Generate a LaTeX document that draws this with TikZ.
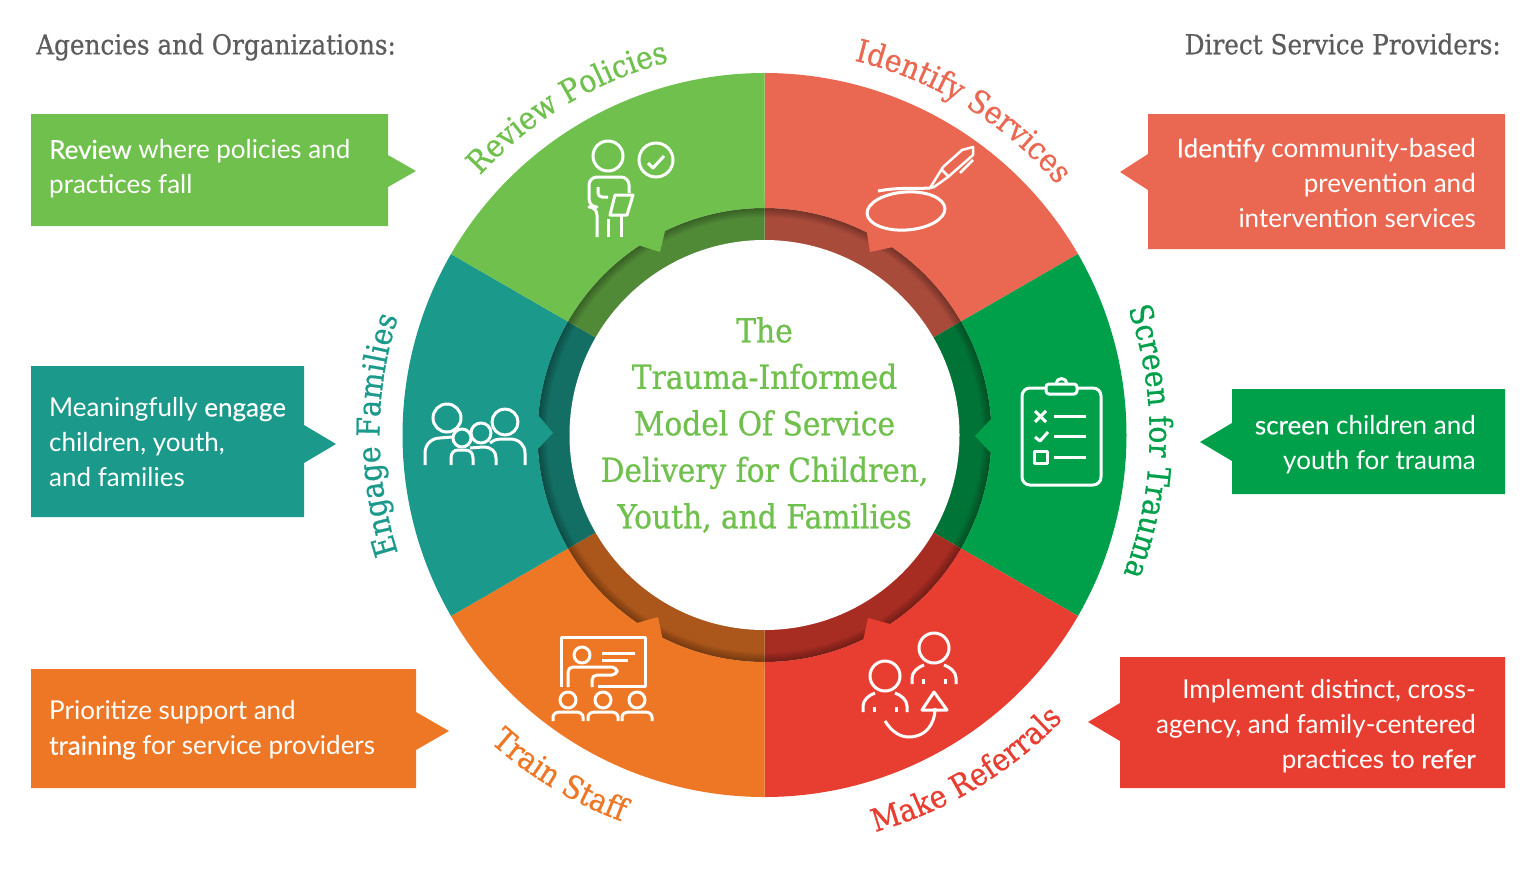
\documentclass[tikz,border=0pt]{standalone}
\usepackage{fontspec}
\usetikzlibrary{decorations.text}
\setmainfont{Lato}
\newfontfamily\slabfont{DejaVu Serif Condensed}[FakeBold=0.7]
\newfontfamily\boldfont{Lato}[FakeBold=0.3]
\definecolor{reviewgreen}{HTML}{70C04D}
\definecolor{identifyred}{HTML}{EA6852}
\definecolor{screengreen}{HTML}{00A04B}
\definecolor{referred}{HTML}{E83E31}
\definecolor{trainorange}{HTML}{ED7725}
\definecolor{engageteal}{HTML}{1B998B}
\definecolor{headgrey}{HTML}{5C5C5C}
\newcommand{\curvedfont}{\slabfont\fontsize{31.5}{32}\selectfont}
\tikzset{
  lefttext/.style={anchor=west,inner sep=0pt,align=left,white,font=\fontsize{26}{35}\selectfont},
  righttext/.style={anchor=east,inner sep=0pt,align=right,white,font=\fontsize{26}{35}\selectfont},
  headtext/.style={inner sep=0pt,headgrey,font=\slabfont\fontsize{27.5}{30}\selectfont},
  icon/.style={white,line width=3pt,line cap=butt,line join=round},
}
\begin{document}
\begin{tikzpicture}[x=1pt,y=-1pt]
\useasboundingbox (0,0) rectangle (1536,873);
% ring and wedges
\begin{scope}[shift={(764.5,435)},y=1pt]
\foreach \col/\a/\b in {identifyred/90/30,screengreen/30/-30,referred/-30/-90,trainorange/-90/-150,engageteal/-150/-210,reviewgreen/150/90}{
  \fill[\col!72!black] (0,0) -- (\a:227) arc (\a:\b:227) -- cycle;
}
\foreach \w in {3,6,9,12,15,18}{
  \draw[black,opacity=0.05,line width=\w] (0,0) circle (227);
}
\foreach \col/\a/\b in {identifyred/90/30,screengreen/30/-30,referred/-30/-90,trainorange/-90/-150,engageteal/-150/-210,reviewgreen/150/90}{
  \fill[\col] (\a:227) -- (\a:362) arc (\a:\b:362) -- (\b:227) arc (\b:\a:227) -- cycle;
}
\end{scope}
% teeth
\fill[reviewgreen] (666,227) -- (660,252) -- (638,245) -- (650,224) -- cycle;
\fill[identifyred] (866,227) -- (870,252) -- (893,247) -- (880,224) -- cycle;
\fill[screengreen] (991,419) -- (975,436) -- (991,453) -- (1000,436) -- cycle;
\fill[referred] (863,641) -- (868,618) -- (890,624) -- (878,646) -- cycle;
\fill[trainorange] (663,641) -- (658,617) -- (637,623) -- (648,646) -- cycle;
\fill[engageteal] (538,415) -- (553,433) -- (538,449) -- (528,432) -- cycle;
\fill[white] (764.5,435) circle (195);
% curved labels
\begin{scope}[shift={(764.5,435)},y=1pt]
\path[decorate,decoration={text along path,text align=center,text={|\curvedfont\color{reviewgreen}|Review Policies}}] (151:385) arc (151:91:385);
\path[decorate,decoration={text along path,text align=center,text={|\curvedfont\color{identifyred}|Identify Services}}] (88.5:385) arc (88.5:28.5:385);
\path[decorate,decoration={text along path,text align=center,text={|\curvedfont\color{screengreen}|Screen for Trauma}}] (29:385) arc (29:-31:385);
\path[decorate,decoration={text along path,text align=center,text={|\curvedfont\color{referred}|Make Referrals}}] (-89:412) arc (-89:-29:412);
\path[decorate,decoration={text along path,text align=center,text={|\curvedfont\color{trainorange}|Train Staff}}] (-151:412) arc (-151:-91:412);
\path[decorate,decoration={text along path,text align=center,text={|\curvedfont\color{engageteal}|Engage Families}}] (210:385) arc (210:150:385);
\end{scope}
% headings and centre
\node[headtext,anchor=west] (agencies) at (36,47) {Agencies and Organizations:};
\node[headtext,anchor=east] (providers) at (1501,44) {Direct Service Providers:};
\node[inner sep=0pt,align=center,reviewgreen,font=\slabfont\fontsize{33}{46.5}\selectfont] (model) at (764.5,425) {The\\Trauma-Informed\\Model Of Service\\Delivery for Children,\\Youth, and Families};
% callouts left
\fill[reviewgreen] (31,114) rectangle (388,226) (388,155) -- (416,171) -- (388,187) -- cycle;
\node[lefttext] (reviewtext) at (49,169) {{\boldfont Review} where policies and\\practices fall};
\fill[engageteal] (31,366) rectangle (304,517) (304,425) -- (336,444) -- (304,463) -- cycle;
\node[lefttext] (engagetext) at (49,442) {Meaningfully {\boldfont engage}\\children, youth,\\and families};
\fill[trainorange] (31,669) rectangle (416,788) (416,712) -- (449,731) -- (416,750) -- cycle;
\node[lefttext] (traintext) at (49,730) {Prioritize support and\\{\boldfont training} for service providers};
% callouts right
\fill[identifyred] (1148,114) rectangle (1505,249) (1148,154) -- (1120,172) -- (1148,190) -- cycle;
\node[righttext] (identifytext) at (1476,183) {{\boldfont Identify} community-based\\prevention and\\intervention services};
\fill[screengreen] (1232,389) rectangle (1505,494) (1232,423) -- (1200,442) -- (1232,461) -- cycle;
\node[righttext] (screentext) at (1476,444.5) {{\boldfont screen} children and\\youth for trauma};
\fill[referred] (1120,657) rectangle (1505,788) (1120,703) -- (1088,722) -- (1120,741) -- cycle;
\node[righttext] (refertext) at (1476,726) {Implement distinct, cross-\\agency, and family-centered\\practices to {\boldfont refer}};
% icon review
\begin{scope}[icon]
\draw (608,156) circle (15);
\draw (656,160) circle (17);
\draw (648,163) -- (653,168) -- (664,156);
\draw[rounded corners=8pt] (597,237) -- (597,207) -- (589,207) -- (589,177) -- (629,177) -- (629,193);
\draw[rounded corners=4pt] (598,187) -- (598,197) -- (608,197);
\draw (615,195) -- (633,195) -- (627,215) -- (610,215) -- cycle;
\draw (608,219) -- (608,237) (621,216) -- (621,237);
% icon identify
\draw[rotate around={4:(906,211)}] (906,211) ellipse (39 and 19);
\draw (878,191) .. controls (900,187) and (915,189) .. (930,188);
\draw[line width=2.5pt] (930,188) -- (943,167) -- (962,150) -- (973,147) -- (973,155) -- (948,177) -- (934,187) -- cycle;
\draw[line width=2.5pt] (942,170) -- (949,177) (960,173) -- (973,160);
% icon screen
\draw[rounded corners=8pt] (1046,388) -- (1022,388) -- (1022,485) -- (1101,485) -- (1101,388) -- (1077,388);
\draw[rounded corners=3pt] (1046,384) rectangle (1077,394);
\draw (1056,384) arc (180:360:5.5);
\draw (1035,411) -- (1046,422) (1046,411) -- (1035,422);
\draw (1054,416) -- (1086,416) (1054,436) -- (1086,436) (1054,457) -- (1086,457);
\draw (1035,437) -- (1040,441) -- (1048,432);
\draw (1034,451) rectangle (1047,463);
% icon refer
\foreach \px/\py in {885/676,934/648}{
  \draw (\px,\py) circle (15);
  \draw (\px-22,\py+36) -- (\px-22,\py+30) .. controls (\px-22,\py+24) and (\px-16,\py+19) .. (\px-10,\py+17);
  \draw (\px+22,\py+36) -- (\px+22,\py+30) .. controls (\px+22,\py+24) and (\px+16,\py+19) .. (\px+10,\py+17);
  \draw (\px-11,\py+31) -- (\px-11,\py+36) (\px+11,\py+31) -- (\px+11,\py+36);
}
\draw (885,721) .. controls (892,732) and (900,737) .. (909,737) .. controls (925,737) and (935,725) .. (935,708);
\draw (934,692) -- (922,710) -- (947,710) -- cycle;
% icon train
\draw (561,687) -- (561,637) -- (645,637) -- (645,686) -- (598,686);
\draw (582,655) circle (8);
\draw (602,653) -- (635,653) (602,660) -- (628,660);
\draw[rounded corners=5pt] (568,687) -- (568,667) -- (617,667) -- (617,675) -- (592,675) -- (592,687);
\foreach \px in {568,603,637}{
  \draw (\px,700) circle (8);
  \draw (\px-15,721) -- (\px-15,717) .. controls (\px-15,714) and (\px-12,712) .. (\px-8,712) -- (\px+8,712) .. controls (\px+12,712) and (\px+15,714) .. (\px+15,717) -- (\px+15,721);
}
% icon engage
\draw (447,418) circle (14);
\draw (505,422) circle (13);
\draw (462,438) circle (9);
\draw (481,433) circle (10);
\draw (425,465) -- (425,453) .. controls (425,444) and (432,438) .. (440,438) -- (452,437);
\draw (451,465) -- (451,458) .. controls (451,453) and (454,450) .. (458,450) -- (465,450) .. controls (470,450) and (473,453) .. (473,458) -- (473,465);
\draw (470,448) -- (483,447) .. controls (491,447) and (496,451) .. (496,458) -- (496,465);
\draw (490,443) .. controls (494,440) and (497,439) .. (500,439) -- (510,439) .. controls (519,439) and (525,445) .. (525,453) -- (525,465);
\end{scope}
\end{tikzpicture}
\end{document}
